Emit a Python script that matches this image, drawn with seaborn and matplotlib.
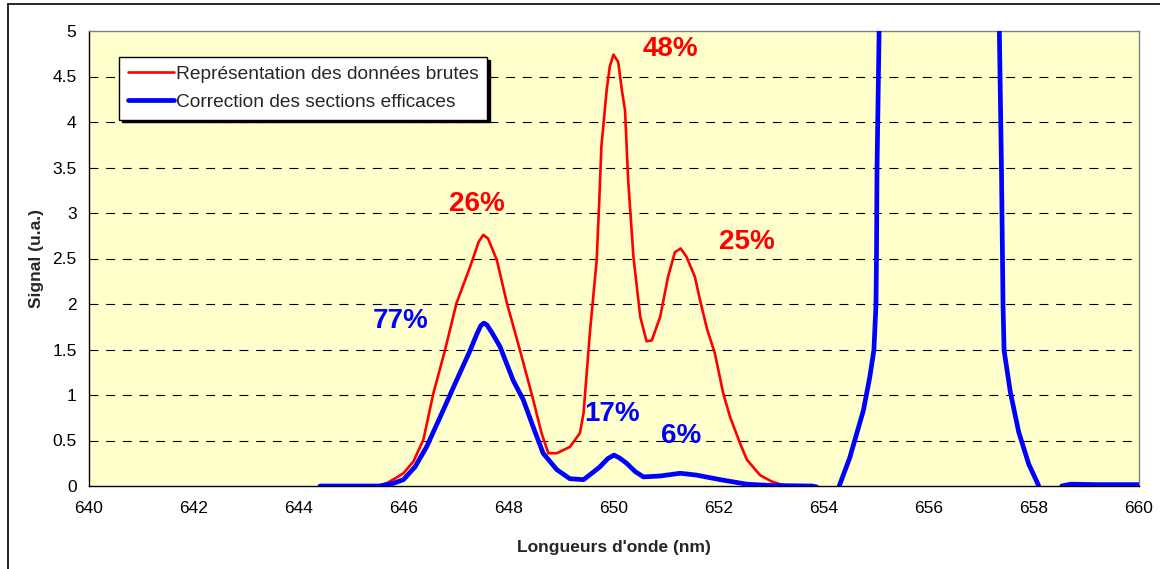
import numpy as np
import pandas as pd
import matplotlib
matplotlib.use("Agg")
import matplotlib.pyplot as plt
from matplotlib.lines import Line2D
import seaborn as sns

# Raw spectrum (red)
raw_wl = [644.4, 645.5, 645.67, 645.85, 645.99, 646.18, 646.37, 646.56, 646.78, 647.0,
          647.26, 647.42, 647.51, 647.6, 647.77, 647.96, 648.21, 648.46, 648.62, 648.75,
          648.91, 649.16, 649.35, 649.42, 649.54, 649.67, 649.72, 649.76, 649.86, 649.92,
          649.99, 650.08, 650.15, 650.21, 650.27, 650.37, 650.5, 650.62, 650.72, 650.88,
          651.03, 651.16, 651.27, 651.38, 651.54, 651.64, 651.77, 651.92, 652.08, 652.21,
          652.4, 652.53, 652.78, 653.0, 653.16, 653.3, 653.6]
raw_sig = [0.0, 0.0, 0.03, 0.09, 0.14, 0.27, 0.51, 1.02, 1.49, 2.01,
           2.41, 2.68, 2.76, 2.72, 2.48, 2.01, 1.49, 0.95, 0.58, 0.36,
           0.36, 0.43, 0.58, 0.80, 1.68, 2.48, 3.14, 3.73, 4.35, 4.61,
           4.74, 4.66, 4.35, 4.13, 3.36, 2.52, 1.86, 1.59, 1.60, 1.86,
           2.30, 2.57, 2.61, 2.52, 2.30, 2.04, 1.73, 1.46, 1.02, 0.76,
           0.47, 0.29, 0.12, 0.05, 0.02, 0.0, 0.0]

# Cross-section corrected spectrum (blue), three separate segments
corr_wl_a = [644.4, 645.54, 645.8, 645.99, 646.21, 646.43, 646.69, 647.0, 647.26, 647.38,
             647.46, 647.52, 647.58, 647.68, 647.83, 648.08, 648.27, 648.46, 648.65, 648.91,
             649.16, 649.42, 649.6, 649.73, 649.88, 650.0, 650.1, 650.24, 650.4, 650.56,
             650.88, 651.26, 651.57, 652.02, 652.53, 653.0, 653.77, 653.86]
corr_sig_a = [0.0, 0.0, 0.03, 0.07, 0.21, 0.43, 0.76, 1.16, 1.49, 1.66,
              1.76, 1.79, 1.77, 1.68, 1.53, 1.16, 0.95, 0.65, 0.36, 0.18,
              0.08, 0.07, 0.15, 0.21, 0.30, 0.34, 0.31, 0.25, 0.16, 0.10,
              0.11, 0.14, 0.12, 0.07, 0.02, 0.005, 0.0, -0.01]

corr_wl_b = [654.29, 654.49, 654.75, 654.87, 654.95, 654.99, 655.0, 655.01, 655.05, 655.12,
             656.2, 657.28, 657.34, 657.38, 657.41, 657.43, 657.55, 657.71, 657.9, 658.06,
             658.09]
corr_sig_b = [0.0, 0.31, 0.83, 1.19, 1.49, 1.99, 2.55, 3.5, 5.0, 7.0,
              15.0, 7.0, 5.0, 3.5, 1.99, 1.49, 1.03, 0.59, 0.24, 0.04,
              0.0]

corr_wl_c = [658.53, 658.7, 659.2, 660.0]
corr_sig_c = [0.0, 0.02, 0.015, 0.015]

# Percentage annotations
pct_red = ["26%", "48%", "25%"]
pct_red_pos = [(647.39, 3.10), (651.07, 4.80), (652.53, 2.68)]
pct_blue = ["77%", "17%", "6%"]
pct_blue_pos = [(645.94, 1.81), (649.96, 0.79), (651.28, 0.55)]

x_ticks = list(range(640, 661, 2))
y_ticks = [0, 0.5, 1, 1.5, 2, 2.5, 3, 3.5, 4, 4.5, 5]
y_tick_labels = ["0", "0.5", "1", "1.5", "2", "2.5", "3", "3.5", "4", "4.5", "5"]

label_raw = "Représentation des données brutes"
label_corr = "Correction des sections efficaces"

sns.set_style("white")
plt.rcParams["font.family"] = ["Liberation Sans", "DejaVu Sans"]

RED = "#FF0000"
BLUE = "#0000FF"

fig = plt.figure(figsize=(11.6, 5.69), dpi=100)
ax = fig.add_axes([89 / 1160, 83 / 569, 1050 / 1160, 455 / 569])
ax.set_facecolor("#FFFFCC")

sns.lineplot(x=raw_wl, y=raw_sig, ax=ax, color=RED, linewidth=1.9,
             legend=False, label=label_raw, zorder=3, sort=False, estimator=None)
for i, (wx, wy) in enumerate([(corr_wl_a, corr_sig_a), (corr_wl_b, corr_sig_b),
                              (corr_wl_c, corr_sig_c)]):
    sns.lineplot(x=wx, y=wy, ax=ax, color=BLUE, linewidth=3.4, legend=False,
                 label=label_corr if i == 0 else "_nolegend_", zorder=4,
                 sort=False, estimator=None)

ax.set_xlim(640, 660)
ax.set_ylim(0, 5)
ax.set_xticks(x_ticks)
ax.set_xticklabels([str(t) for t in x_ticks])
ax.set_yticks(y_ticks)
ax.set_yticklabels(y_tick_labels)
ax.tick_params(axis="both", direction="out", length=5, width=1, color="black",
               labelsize=12.5, labelcolor="black", pad=4)
ax.tick_params(axis="x", pad=6)

for yv in y_ticks[1:-1]:
    ax.axhline(yv, color="black", linewidth=0.8, linestyle=(0, (8, 7)), zorder=1)

for side in ("left", "bottom"):
    ax.spines[side].set_color("black")
    ax.spines[side].set_linewidth(1.0)
for side in ("top", "right"):
    ax.spines[side].set_color("#808080")
    ax.spines[side].set_linewidth(1.0)

ax.set_xlabel("Longueurs d'onde (nm)", fontsize=12.5, fontweight="bold", labelpad=17)
ax.set_ylabel("Signal (u.a.)", fontsize=12.5, fontweight="bold", labelpad=6)

for txt, (px, py) in zip(pct_red, pct_red_pos):
    ax.text(px, py, txt, color=RED, fontsize=20, fontweight="bold",
            ha="center", va="center", zorder=5)
for txt, (px, py) in zip(pct_blue, pct_blue_pos):
    ax.text(px, py, txt, color=BLUE, fontsize=20, fontweight="bold",
            ha="center", va="center", zorder=5)

handles = [Line2D([], [], color=RED, linewidth=1.9),
           Line2D([], [], color=BLUE, linewidth=3.4)]
leg = ax.legend(handles, [label_raw, label_corr], loc="upper left",
                bbox_to_anchor=(0.0286, 0.943), borderaxespad=0, fontsize=13.8,
                frameon=True, fancybox=False, shadow={"color": "black", "alpha": 1.0},
                handlelength=2.4, handletextpad=0.12, borderpad=0.45,
                labelspacing=0.55)
leg.get_frame().set_edgecolor("black")
leg.get_frame().set_linewidth(1.0)
leg.get_frame().set_facecolor("white")
leg.set_zorder(6)

# Outer chart border (top and left edges)
fig.add_artist(Line2D([8 / 1160, 8 / 1160], [0, 1 - 4 / 569], transform=fig.transFigure,
                      color="black", linewidth=1.2))
fig.add_artist(Line2D([8 / 1160, 1], [1 - 4 / 569, 1 - 4 / 569], transform=fig.transFigure,
                      color="black", linewidth=1.2))

fig.savefig("out.png", dpi=100, facecolor="white")
